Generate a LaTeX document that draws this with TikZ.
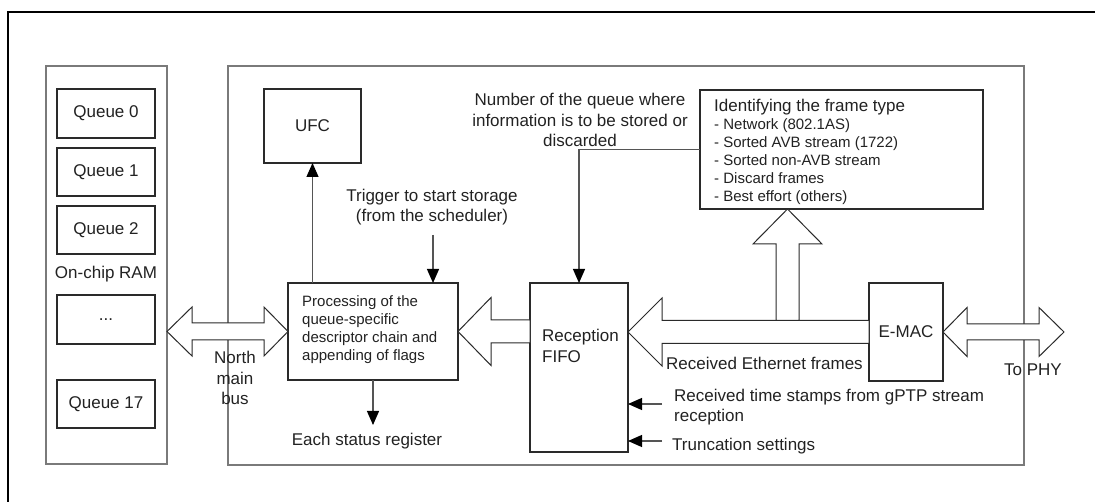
\documentclass[tikz,border=0pt]{standalone}
\usepackage{fontspec}
\setmainfont{Liberation Sans}
\usetikzlibrary{arrows.meta,calc}
\definecolor{bdr}{HTML}{2A2A2A}
\definecolor{cont}{HTML}{7A7A7A}
\definecolor{lnk}{HTML}{555555}
\definecolor{txt}{HTML}{222222}
\tikzset{
  lbl/.style={font=\fontsize{17}{20.5}\selectfont, inner sep=0pt, text=txt},
  sml/.style={font=\fontsize{15}{18}\selectfont, inner sep=0pt, text=txt},
  blk/.style={draw=bdr, line width=1.6pt, fill=white, inner sep=0pt, outer sep=0pt, font=\fontsize{17}{20.5}\selectfont, text=txt},
  contbox/.style={draw=cont, line width=1.2pt, inner sep=0pt, outer sep=0pt},
  conn/.style={draw=lnk, line width=1.2pt, -{Triangle[length=14pt,width=12pt,color=black]}},
  fat/.style={draw=bdr, line width=1pt, fill=white, line join=miter},
}
\begin{document}
\begin{tikzpicture}[x=1pt,y=-1pt]
\useasboundingbox (0,0) rectangle (1095,502);
% outer frame (top and left visible)
\draw[line width=2.5pt] (1100,12) -- (8,12) -- (8,510);
% containers
\node[contbox, minimum width=121, minimum height=398, anchor=north west] (ram) at (46,66) {};
\node[contbox, minimum width=796, minimum height=399, anchor=north west] (main) at (228,66) {};
% queues
\node[blk, minimum width=98, minimum height=49, anchor=north west] (q0) at (57,89) {Queue 0};
\node[blk, minimum width=98, minimum height=48, anchor=north west] (q1) at (57,148) {Queue 1};
\node[blk, minimum width=98, minimum height=48, anchor=north west] (q2) at (57,206) {Queue 2};
\node[lbl] (ramlbl) at (106,274) {On-chip RAM};
\node[blk, minimum width=98, minimum height=49, anchor=north west] (qd) at (57,295) {...};
\node[blk, minimum width=98, minimum height=48, anchor=north west] (q17) at (57,380) {Queue 17};
% blocks
\node[blk, minimum width=97, minimum height=74, anchor=north west] (ufc) at (264,89) {UFC};
\node[blk, minimum width=170, minimum height=97, anchor=north west] (proc) at (288,283) {};
\node[sml, align=left, anchor=west] (proctxt) at (302,330) {Processing of the\\queue-specific\\descriptor chain and\\appending of flags};
\node[blk, minimum width=98, minimum height=169, anchor=north west] (fifo) at (530,283) {};
\node[lbl, align=left, anchor=west] (fifotxt) at (542,346) {Reception\\FIFO};
\node[blk, minimum width=74, minimum height=98, anchor=north west] (emac) at (869,283) {E-MAC};
\node[blk, minimum width=283, minimum height=119, anchor=north west] (ident) at (700,90) {};
\node[lbl, anchor=west] (identtitle) at (714,107) {Identifying the frame type};
\node[sml, align=left, anchor=north west] (identlist) at (714,118.5) {- Network (802.1AS)\\- Sorted AVB stream (1722)\\- Sorted non-AVB stream\\- Discard frames\\- Best effort (others)};
% fat arrows
\coordinate (nbL) at (ram.east |- proc.west);
\draw[fat] (nbL) -- ++(25,-24.5) -- ++(0,16) -- ($(proc.west)+(-24,-8.5)$) -- ++(0,-16) -- (proc.west) -- ++(-24,24.5) -- ++(0,-16) -- ($(nbL)+(25,8.5)$) -- ++(0,16) -- cycle;
\coordinate (fl) at (fifo.west |- proc.east);
\draw[fat] (proc.east) -- ++(33,-34) -- ++(0,22.5) -- ($(fl)+(0,-11.5)$) -- ($(fl)+(0,11.5)$) -- ($(proc.east)+(33,11.5)$) -- ++(0,22.5) -- cycle;
\coordinate (ft) at (fifo.east |- emac.west);
\draw[fat] (ft) -- ++(34,-34) -- ++(0,22.5) -- ($(emac.west)+(0,-11.5)$) -- ($(emac.west)+(0,11.5)$) -- ($(ft)+(34,11.5)$) -- ++(0,22.5) -- cycle;
\coordinate (up) at ($(ident.south west)+(87.5,0)$);
\draw[fat] (up) -- ++(-34.5,35) -- ++(23,0) -- ($(up |- emac.west)+(-11.5,-11.5)$) -- ($(up |- emac.west)+(11.5,-11.5)$) -- ($(up)+(11.5,35)$) -- ++(23,0) -- cycle;
\coordinate (phy) at ($(emac.east)+(121,0)$);
\draw[fat] (emac.east) -- ++(24,-24.5) -- ++(0,16.5) -- ($(phy)+(-25,-8)$) -- ++(0,-16.5) -- (phy) -- ++(-25,24.5) -- ++(0,-16.5) -- ($(emac.east)+(24,8)$) -- ++(0,16.5) -- cycle;
% thin connectors
\draw[conn] (proc.north -| ufc.south) -- (ufc.south);
\coordinate (trig) at (433,235);
\draw[conn] (trig) -- (trig |- proc.north);
\coordinate (stat) at ($(proc.south)+(0,45)$);
\draw[conn] (proc.south) -- (stat);
\draw[conn] (ident.west) -| (fifo.north);
\coordinate (ts) at (662,404);
\draw[conn] (ts) -- (ts -| fifo.east);
\coordinate (tr) at (662,441);
\draw[conn] (tr) -- (tr -| fifo.east);
% labels
\node[lbl, align=center] (triglbl) at (432,207) {Trigger to start storage\\(from the scheduler)};
\node[lbl, align=center] (numlbl) at (580,120) {Number of the queue where\\information is to be stored or\\discarded};
\node[lbl] (statlbl) at (367,441) {Each status register};
\node[lbl, align=center] (nblbl) at (235,378) {North\\main\\bus};
\node[lbl, anchor=west] (ethlbl) at (666,363) {Received Ethernet frames};
\node[lbl, align=left, anchor=west] (tslbl) at (674,407) {Received time stamps from gPTP stream\\reception};
\node[lbl, anchor=west] (trlbl) at (672,446) {Truncation settings};
\node[lbl] (phylbl) at (1033,370) {To PHY};
\end{tikzpicture}
\end{document}
